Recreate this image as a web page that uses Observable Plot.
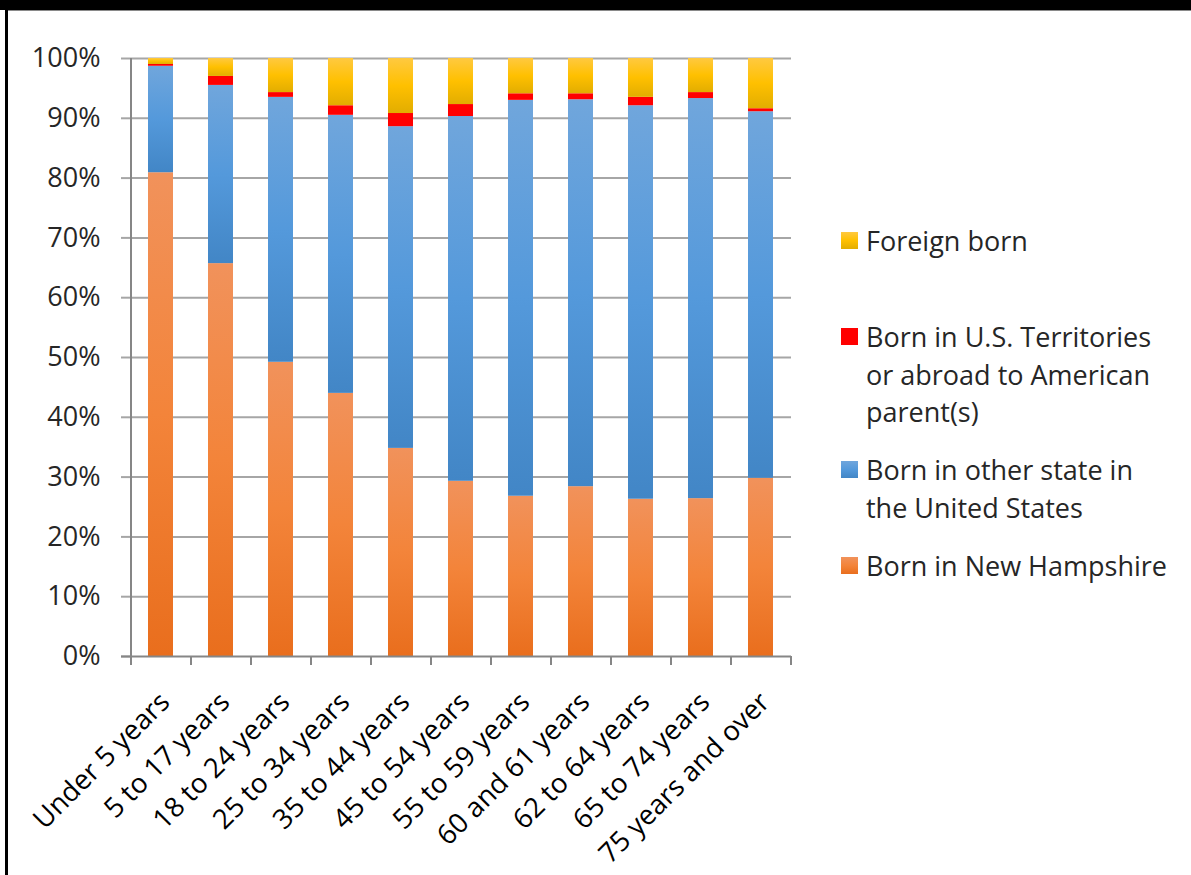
<!DOCTYPE html>
<html>
<head>
<meta charset="utf-8">
<script src="https://cdn.jsdelivr.net/npm/d3@7"></script>
<script src="https://cdn.jsdelivr.net/npm/@observablehq/plot@0.6"></script>
<style>
  html, body { margin: 0; padding: 0; background: #fff; }
  #wrap { position: relative; width: 1191px; height: 875px; overflow: hidden; font-family: "Open Sans", sans-serif; }
  #topbar { position: absolute; left: 0; top: 0; width: 1191px; height: 10px; background: #000; }
  #topline { position: absolute; left: 8px; top: 10px; width: 1183px; height: 1px; background: #8a8a8a; }
  #leftbar { position: absolute; left: 5px; top: 0; width: 3px; height: 875px; background: #000; }
  #chart { position: absolute; left: 0; top: 0; }
  .lg { position: absolute; left: 841px; }
  .sw { position: absolute; left: 0; width: 17px; height: 17px; }
  .lt { position: absolute; left: 25px; font-size: 27px; line-height: 37.5px; color: #262626; white-space: nowrap; }
</style>
</head>
<body>
<div id="wrap">
  <div id="chart"></div>
  <div id="topbar"></div>
  <div id="topline"></div>
  <div id="leftbar"></div>
  <div id="legend"></div>
</div>
<script>
const categories = ["Under 5 years", "5 to 17 years", "18 to 24 years", "25 to 34 years", "35 to 44 years", "45 to 54 years", "55 to 59 years", "60 and 61 years", "62 to 64 years", "65 to 74 years", "75 years and over"];
const seriesNames = ["Born in New Hampshire", "Born in other state in the United States", "Born in U.S. Territories or abroad to American parent(s)", "Foreign born"];
const bornNH      = [80.9, 65.7, 49.2, 44.0, 34.8, 29.3, 26.8, 28.4, 26.3, 26.4, 29.8];
const otherState  = [17.8, 29.8, 44.3, 46.5, 53.8, 61.0, 66.2, 64.7, 65.8, 66.9, 61.3];
const territories = [0.3, 1.5, 0.8, 1.6, 2.2, 2.0, 1.1, 1.0, 1.4, 1.0, 0.5];
const foreignBorn = [1.0, 3.0, 5.7, 7.9, 9.2, 7.7, 5.9, 5.9, 6.5, 5.7, 8.4];
const yTicks = [0, 10, 20, 30, 40, 50, 60, 70, 80, 90, 100];

const seriesValues = [bornNH, otherState, territories, foreignBorn];
const fills = ["url(#gOrange)", "url(#gBlue)", "#FF0000", "url(#gYellow)"];

const table = [];
seriesValues.forEach((vals, s) => {
  vals.forEach((v, i) => table.push({category: categories[i], series: seriesNames[s], value: v}));
});

const svg = Plot.plot({
  width: 1191,
  height: 875,
  marginLeft: 131,
  marginRight: 400,
  marginTop: 58,
  marginBottom: 219,
  style: {fontFamily: "'Open Sans', sans-serif", background: "transparent", overflow: "visible"},
  x: {domain: categories, paddingInner: 0.58, paddingOuter: 0.29, axis: null},
  y: {domain: [0, 100], axis: null},
  color: {domain: seriesNames, range: fills},
  marks: [
    Plot.ruleY(yTicks.slice(1), {y: d => d, stroke: "#a6a6a6", strokeWidth: 2}),
    Plot.barY(table, {x: "category", y: "value", fill: "series"}),
    Plot.axisY({ticks: yTicks, tickFormat: d => d + "%", tickSize: 10, tickPadding: 21, fontSize: 27, label: null, stroke: "#a6a6a6", strokeWidth: 2, color: "#262626", fill: "#262626"}),
    Plot.ruleY([0], {y: d => d, stroke: "#868686", strokeWidth: 2, insetLeft: -10}),
    Plot.ruleX([categories[0]], {x: d => d, dx: -30, y1: 100, y2: 0, insetBottom: -9, stroke: "#868686", strokeWidth: 2}),
    Plot.ruleX(categories.slice(1), {x: d => d, dx: -30, y1: 0, y2: 0, insetBottom: -9, stroke: "#868686", strokeWidth: 2}),
    Plot.ruleX([categories[categories.length - 1]], {x: d => d, dx: 30, y1: 0, y2: 0, insetBottom: -9, stroke: "#868686", strokeWidth: 2}),
    Plot.text(categories, {x: d => d, y: 0, text: d => d, rotate: -45, textAnchor: "end", lineAnchor: "middle", dx: 4, dy: 41, fontSize: 27.5, fill: "#000"})
  ]
});

svg.insertAdjacentHTML("afterbegin", `
<defs>
  <linearGradient id="gOrange" x1="0" y1="0" x2="0" y2="1">
    <stop offset="0" stop-color="#F1925B"/>
    <stop offset="0.5" stop-color="#F3843A"/>
    <stop offset="1" stop-color="#E96E1D"/>
  </linearGradient>
  <linearGradient id="gBlue" x1="0" y1="0" x2="0" y2="1">
    <stop offset="0" stop-color="#70A6DC"/>
    <stop offset="0.5" stop-color="#5499DB"/>
    <stop offset="1" stop-color="#4286C6"/>
  </linearGradient>
  <linearGradient id="gYellow" x1="0" y1="0" x2="0" y2="1">
    <stop offset="0" stop-color="#FFC940"/>
    <stop offset="0.5" stop-color="#FFC000"/>
    <stop offset="1" stop-color="#E2AD00"/>
  </linearGradient>
</defs>`);
document.getElementById("chart").appendChild(svg);

// Legend (HTML, beside the SVG)
const legendItems = [
  {lines: ["Foreign born"], top: 222, bg: "linear-gradient(#FFC940, #FFC000 50%, #E2AD00)"},
  {lines: ["Born in U.S. Territories", "or abroad to American", "parent(s)"], top: 318, bg: "#FF0000"},
  {lines: ["Born in other state in", "the United States"], top: 451, bg: "linear-gradient(#70A6DC, #5499DB 50%, #4286C6)"},
  {lines: ["Born in New Hampshire"], top: 547, bg: "linear-gradient(#F1925B, #F3843A 50%, #E96E1D)"}
];
const legend = document.getElementById("legend");
legendItems.forEach(it => {
  const g = document.createElement("div");
  g.className = "lg";
  g.style.top = it.top + "px";
  const sw = document.createElement("div");
  sw.className = "sw";
  sw.style.top = "10px";
  sw.style.background = it.bg;
  const t = document.createElement("div");
  t.className = "lt";
  t.style.top = "0px";
  t.innerHTML = it.lines.join("<br>");
  g.appendChild(sw);
  g.appendChild(t);
  legend.appendChild(g);
});
</script>
</body>
</html>
